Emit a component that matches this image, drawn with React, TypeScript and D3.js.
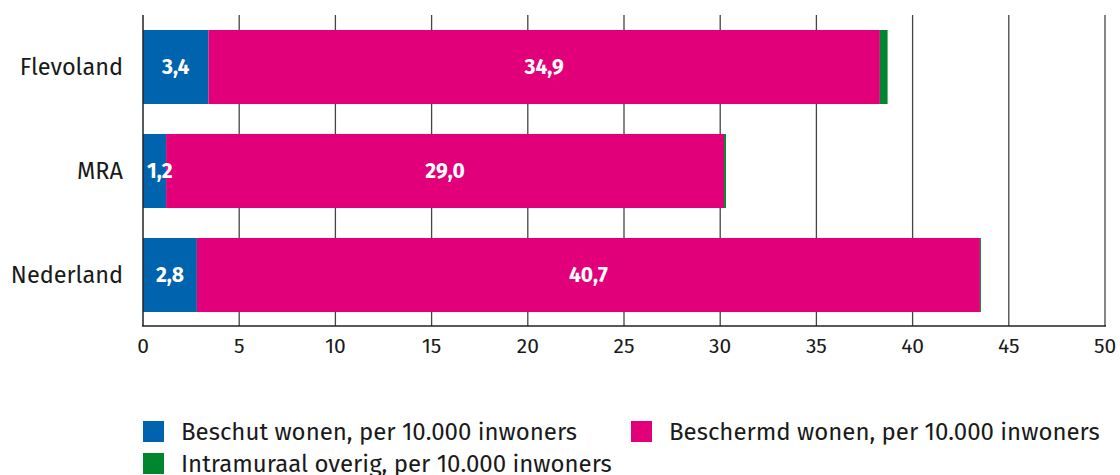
import { useEffect, useRef } from "react";
import * as d3 from "d3";

const regions = ["Flevoland", "MRA", "Nederland"];
const beschut = [3.4, 1.2, 2.8];
const beschermd = [34.9, 29.0, 40.7];
const intramuraal = [0.4, 0.1, 0.05];
const xTicks = [0, 5, 10, 15, 20, 25, 30, 35, 40, 45, 50];

const seriesNames = [
  "Beschut wonen, per 10.000 inwoners",
  "Beschermd wonen, per 10.000 inwoners",
  "Intramuraal overig, per 10.000 inwoners",
];
const colors = ["#0063ad", "#e2007a", "#00862f"];

export default function App() {
  const ref = useRef<SVGSVGElement>(null);

  useEffect(() => {
    const svg = d3.select(ref.current);
    svg.selectAll("*").remove();

    const font = "'Fira Sans', 'Noto Sans', sans-serif";
    const x = d3.scaleLinear().domain([0, 50]).range([143, 1105]);
    const y = d3
      .scaleBand()
      .domain(regions)
      .range([15, 327])
      .paddingInner(0.288)
      .paddingOuter(0.144);

    const rows = regions.map((r, i) => ({
      region: r,
      beschut: beschut[i],
      beschermd: beschermd[i],
      intramuraal: intramuraal[i],
    }));
    const keys = ["beschut", "beschermd", "intramuraal"];
    const stacked = d3.stack<any>().keys(keys)(rows);

    // gridlines
    svg
      .append("g")
      .selectAll("line")
      .data(xTicks.slice(1))
      .enter()
      .append("line")
      .attr("x1", (d) => x(d))
      .attr("x2", (d) => x(d))
      .attr("y1", 15)
      .attr("y2", 326)
      .attr("stroke", "#444")
      .attr("stroke-width", 1.3);

    // bars
    const layers = svg
      .append("g")
      .selectAll("g")
      .data(stacked)
      .enter()
      .append("g")
      .attr("fill", (_, i) => colors[i]);

    layers
      .selectAll("rect")
      .data((d) => d)
      .enter()
      .append("rect")
      .attr("x", (d) => x(d[0]))
      .attr("y", (d: any) => y(d.data.region)!)
      .attr("width", (d) => x(d[1]) - x(d[0]))
      .attr("height", y.bandwidth());

    // value labels for first two series (kept inside the bar when too narrow)
    stacked.slice(0, 2).forEach((layer) => {
      svg
        .append("g")
        .selectAll("text")
        .data(layer)
        .enter()
        .append("text")
        .attr("y", (d: any) => y(d.data.region)! + y.bandwidth() / 2)
        .attr("dy", "0.35em")
        .attr("text-anchor", "middle")
        .attr("fill", "white")
        .attr("font-weight", "bold")
        .attr("font-size", "21px")
        .attr("font-family", font)
        .text((d) => d3.format(".1f")(d[1] - d[0]).replace(".", ","))
        .attr("x", function (d) {
          const w = (this as SVGTextElement).getComputedTextLength();
          const c = (x(d[0]) + x(d[1])) / 2;
          return Math.max(c, x(d[0]) + 4 + w / 2);
        });
    });

    // axes lines
    svg
      .append("line")
      .attr("x1", 143)
      .attr("x2", 143)
      .attr("y1", 15)
      .attr("y2", 326)
      .attr("stroke", "#222")
      .attr("stroke-width", 1.5);
    svg
      .append("line")
      .attr("x1", 142)
      .attr("x2", 1106)
      .attr("y1", 326)
      .attr("y2", 326)
      .attr("stroke", "#222")
      .attr("stroke-width", 1.5);

    // x tick labels
    svg
      .append("g")
      .selectAll("text")
      .data(xTicks)
      .enter()
      .append("text")
      .attr("x", (d) => x(d))
      .attr("y", 353)
      .attr("text-anchor", "middle")
      .attr("font-size", "21px")
      .attr("font-family", font)
      .attr("fill", "#1a1a1a")
      .text((d) => d);

    // y labels
    svg
      .append("g")
      .selectAll("text")
      .data(regions)
      .enter()
      .append("text")
      .attr("x", 123)
      .attr("y", (d) => y(d)! + y.bandwidth() / 2)
      .attr("dy", "0.35em")
      .attr("text-anchor", "end")
      .attr("font-size", "23.5px")
      .attr("font-family", font)
      .attr("fill", "#1a1a1a")
      .text((d) => d);

    // legend
    const legendPos = [
      [143, 421],
      [631, 421],
      [143, 453],
    ];
    const legend = svg
      .append("g")
      .selectAll("g")
      .data(seriesNames)
      .enter()
      .append("g")
      .attr("transform", (_, i) => `translate(${legendPos[i][0]},${legendPos[i][1]})`);
    legend
      .append("rect")
      .attr("width", 21)
      .attr("height", 21)
      .attr("fill", (_, i) => colors[i]);
    legend
      .append("text")
      .attr("x", 38)
      .attr("y", 10.5)
      .attr("dy", "0.35em")
      .attr("font-size", "24px")
      .attr("font-family", font)
      .attr("fill", "#1a1a1a")
      .text((d) => d);
  }, []);

  return (
    <svg
      ref={ref}
      width={1120}
      height={475}
      style={{ position: "absolute", left: 0, top: 0, background: "white" }}
    />
  );
}
